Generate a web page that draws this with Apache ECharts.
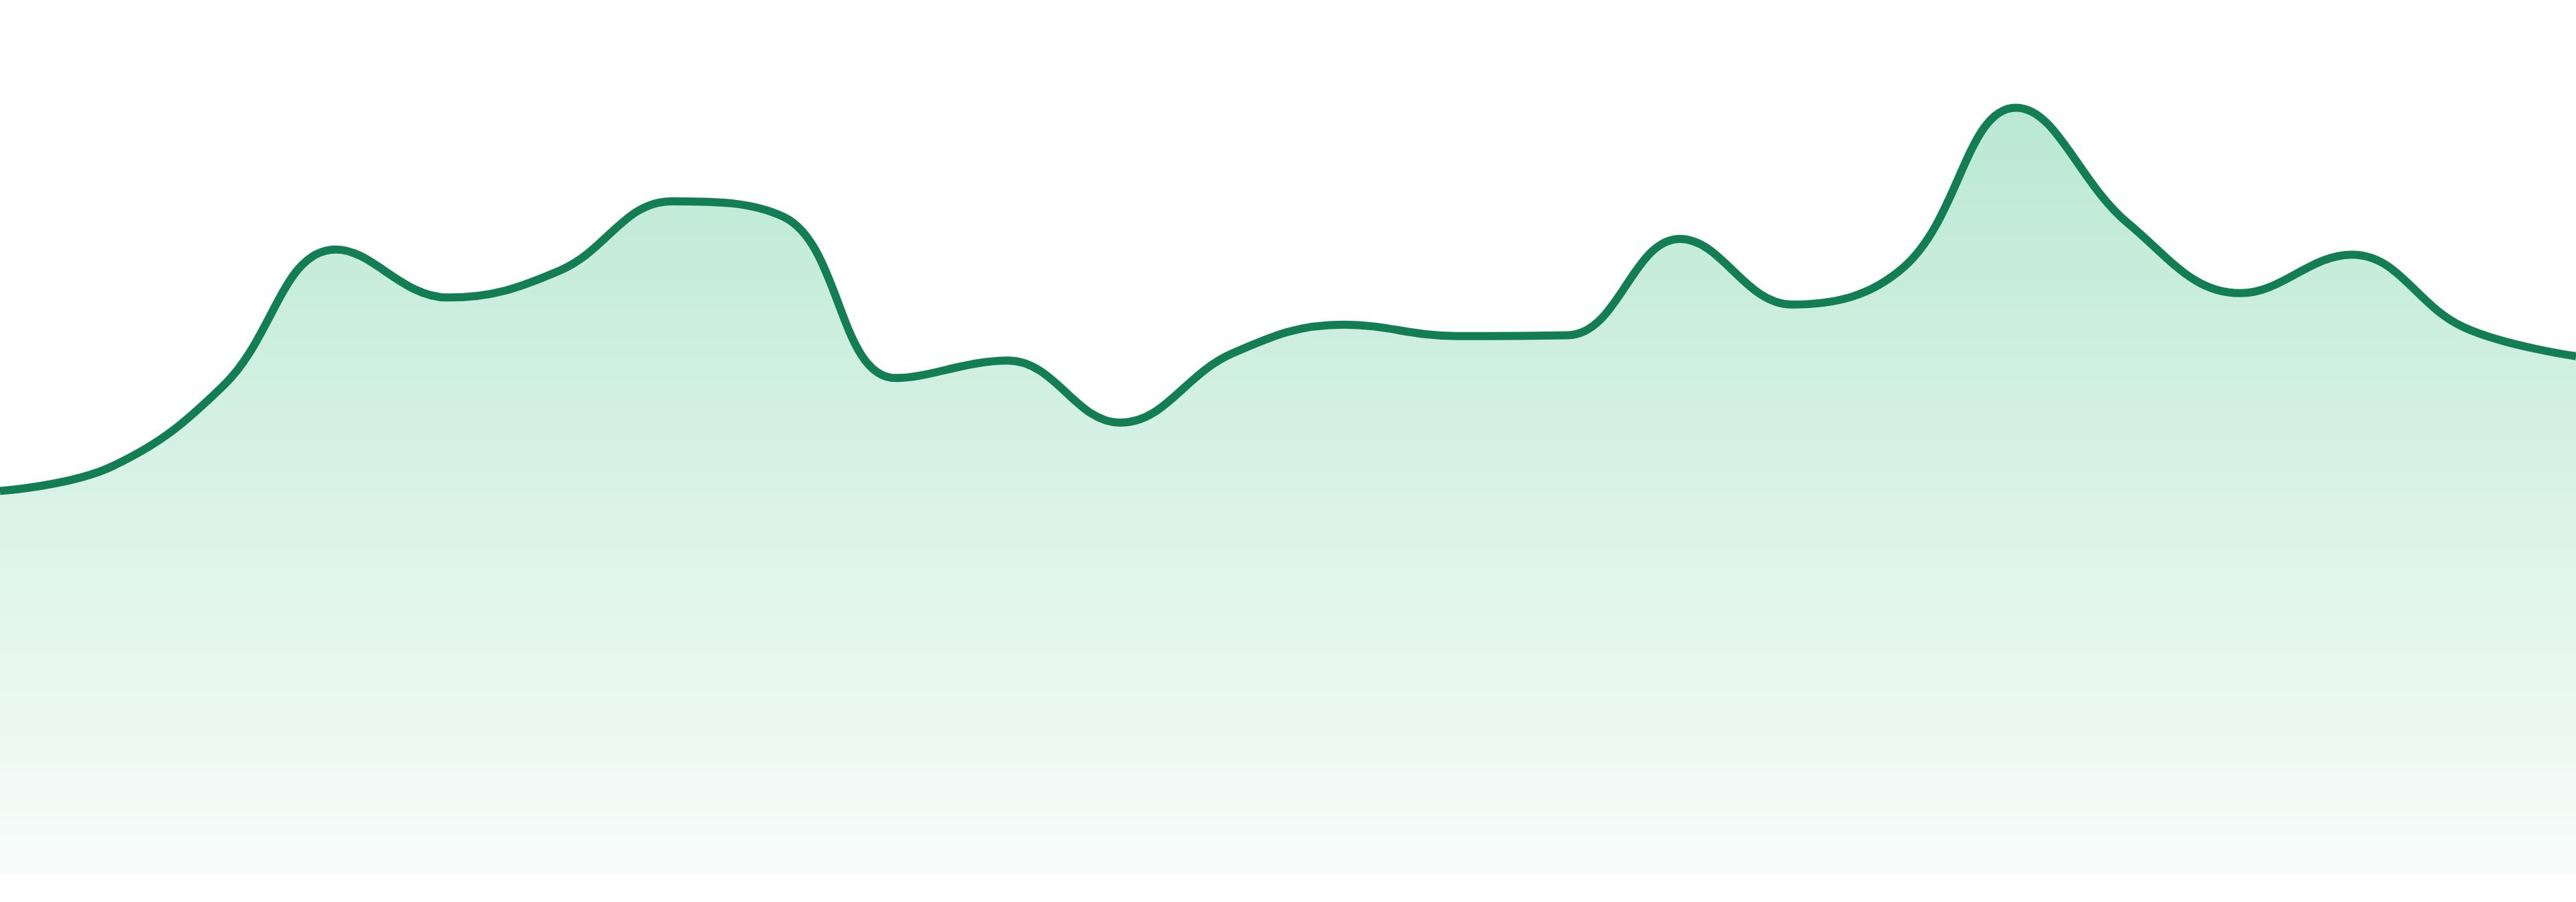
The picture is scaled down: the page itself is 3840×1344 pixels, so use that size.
<!DOCTYPE html>
<html>
<head>
<meta charset="utf-8">
<script src="https://cdn.jsdelivr.net/npm/echarts@6/dist/echarts.min.js"></script>
<style>
html,body{margin:0;padding:0;background:#ffffff;}
#chart{width:3840px;height:1344px;}
</style>
</head>
<body>
<div id="chart"></div>
<script>
const categories = ['1','2','3','4','5','6','7','8','9','10','11','12','13','14','15','16','17','18','19','20','21','22','23','24'];
const values = [43.9, 46.7, 56.0, 71.5, 66.0, 69.1, 77.0, 75.2, 56.8, 58.8, 51.7, 59.6, 62.9, 61.6, 61.7, 72.7, 65.2, 69.5, 87.7, 74.5, 66.5, 70.9, 62.6, 59.3];

const chart = echarts.init(document.getElementById('chart'));
chart.setOption({
  animation: false,
  backgroundColor: '#ffffff',
  grid: { left: 0, right: 0, top: 0, bottom: 40 },
  xAxis: {
    type: 'category',
    data: categories,
    boundaryGap: false,
    show: false
  },
  yAxis: {
    type: 'value',
    min: 0,
    max: 100,
    show: false
  },
  series: [{
    type: 'line',
    data: values,
    smooth: 0.4,
    symbol: 'none',
    lineStyle: { color: '#137d54', width: 12 },
    areaStyle: {
      opacity: 1,
      color: new echarts.graphic.LinearGradient(0, 0, 0, 1, [
        { offset: 0, color: '#bae8d4' },
        { offset: 1, color: '#f8fcfa' }
      ])
    }
  }]
});
</script>
</body>
</html>
